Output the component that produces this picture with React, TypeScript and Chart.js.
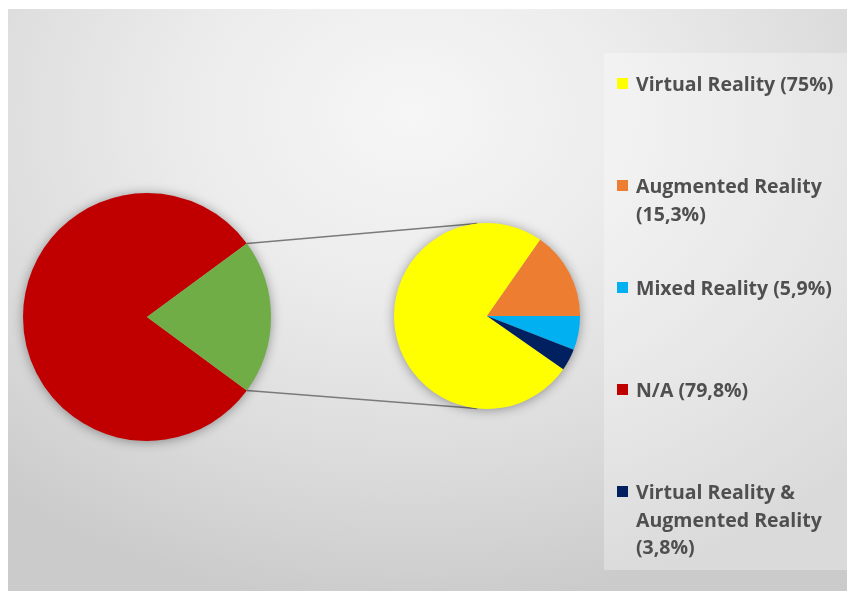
import React, { useEffect, useRef } from "react";
import { Chart, registerables } from "chart.js";

Chart.register(...registerables);

// ---- data ----
const naLabel = "N/A";
const naValue = 79.8;
const otherLabel = "Other";
const otherCategories = [
  "Virtual Reality",
  "Augmented Reality",
  "Mixed Reality",
  "Virtual Reality & Augmented Reality",
];
const otherValues = [75, 15.3, 5.9, 3.8];
const otherShare = 20.2;
const otherColors = ["#FFFF00", "#ED7D31", "#00B0F0", "#002060"];
const naColor = "#C00000";
const otherSliceColor = "#70AD47";
// legend order as shown in the reference
const legendOrder = ["Virtual Reality", "Augmented Reality", "Mixed Reality", "N/A", "Virtual Reality & Augmented Reality"];

const fmt = (v: number) => String(v).replace(".", ",");

const shadowPlugin = {
  id: "pieShadow",
  beforeDatasetsDraw(chart: any) {
    const meta = chart.getDatasetMeta(0);
    const arc = meta.data[0];
    if (!arc) return;
    const ctx = chart.ctx;
    ctx.save();
    ctx.shadowColor = "rgba(0,0,0,0.4)";
    ctx.shadowBlur = 12;
    ctx.shadowOffsetX = 0;
    ctx.shadowOffsetY = 1;
    ctx.fillStyle = "#bbbbbb";
    ctx.beginPath();
    ctx.arc(arc.x, arc.y, arc.outerRadius - 0.5, 0, Math.PI * 2);
    ctx.fill();
    ctx.restore();
  },
};

const MAIN = { left: 3, top: 172, size: 272, pad: 12 };
const SEC = { left: 374, top: 202, size: 210, pad: 12 };

export default function App() {
  const mainRef = useRef<HTMLCanvasElement>(null);
  const secRef = useRef<HTMLCanvasElement>(null);
  const lineRef = useRef<HTMLCanvasElement>(null);

  useEffect(() => {
    const main = new Chart(mainRef.current!, {
      type: "pie",
      data: {
        labels: [naLabel, otherLabel],
        datasets: [
          {
            data: [naValue, otherShare],
            backgroundColor: [naColor, otherSliceColor],
            borderWidth: 0,
          },
        ],
      },
      options: {
        animation: false,
        responsive: false,
        rotation: 90 + (otherShare * 3.6) / 2,
        layout: { padding: MAIN.pad },
        plugins: { legend: { display: false }, tooltip: { enabled: false } },
      },
      plugins: [shadowPlugin],
    });

    const tail = otherValues[2] + otherValues[3];
    const sec = new Chart(secRef.current!, {
      type: "pie",
      data: {
        labels: otherCategories,
        datasets: [
          {
            data: otherValues,
            backgroundColor: otherColors,
            borderWidth: 0,
          },
        ],
      },
      options: {
        animation: false,
        responsive: false,
        rotation: 90 + tail * 3.6,
        layout: { padding: SEC.pad },
        plugins: { legend: { display: false }, tooltip: { enabled: false } },
      },
      plugins: [shadowPlugin],
    });

    // connector lines from the "Other" slice to the secondary pie
    const lc = lineRef.current!;
    const ctx = lc.getContext("2d")!;
    ctx.clearRect(0, 0, lc.width, lc.height);
    const oArc: any = main.getDatasetMeta(0).data[1];
    const sArc: any = sec.getDatasetMeta(0).data[0];
    const p1 = {
      x: MAIN.left + oArc.x + oArc.outerRadius * Math.cos(oArc.startAngle),
      y: MAIN.top + oArc.y + oArc.outerRadius * Math.sin(oArc.startAngle),
    };
    const p2 = {
      x: MAIN.left + oArc.x + oArc.outerRadius * Math.cos(oArc.endAngle),
      y: MAIN.top + oArc.y + oArc.outerRadius * Math.sin(oArc.endAngle),
    };
    const a = (96 * Math.PI) / 180;
    const q1 = {
      x: SEC.left + sArc.x + sArc.outerRadius * Math.cos(-a),
      y: SEC.top + sArc.y + sArc.outerRadius * Math.sin(-a),
    };
    const q2 = {
      x: SEC.left + sArc.x + sArc.outerRadius * Math.cos(a),
      y: SEC.top + sArc.y + sArc.outerRadius * Math.sin(a),
    };
    ctx.strokeStyle = "#7a7a7a";
    ctx.lineWidth = 1.5;
    ctx.beginPath();
    ctx.moveTo(p1.x, p1.y);
    ctx.lineTo(q1.x, q1.y);
    ctx.moveTo(p2.x, p2.y);
    ctx.lineTo(q2.x, q2.y);
    ctx.stroke();

    return () => {
      main.destroy();
      sec.destroy();
    };
  }, []);

  const legendItems = legendOrder.map((name) => {
    if (name === naLabel) return { text: `${naLabel} (${fmt(naValue)}%)`, color: naColor };
    const i = otherCategories.indexOf(name);
    return { text: `${name} (${fmt(otherValues[i])}%)`, color: otherColors[i] };
  });

  return (
    <div
      style={{
        position: "fixed",
        left: 8,
        top: 9,
        width: 839,
        height: 582,
        overflow: "hidden",
        background:
          "radial-gradient(ellipse 75% 85% at 48% 18%, #f6f6f6 0%, #ececec 35%, #dcdcdc 70%, #cbcbcb 100%)",
        fontFamily: "'Open Sans', Lato, sans-serif",
      }}
    >
      <div
        style={{
          position: "absolute",
          left: 596,
          top: 44,
          width: 243,
          height: 517,
          background: "rgba(255,255,255,0.3)",
        }}
      />
      <canvas
        ref={lineRef}
        width={839}
        height={582}
        style={{ position: "absolute", left: 0, top: 0 }}
      />
      <canvas
        ref={mainRef}
        width={MAIN.size}
        height={MAIN.size}
        style={{ position: "absolute", left: MAIN.left, top: MAIN.top, width: MAIN.size, height: MAIN.size }}
      />
      <canvas
        ref={secRef}
        width={SEC.size}
        height={SEC.size}
        style={{ position: "absolute", left: SEC.left, top: SEC.top, width: SEC.size, height: SEC.size }}
      />
      {legendItems.map((it, i) => (
        <div
          key={i}
          style={{
            position: "absolute",
            left: 609,
            top: 61 + i * 102,
            width: 230,
            display: "flex",
            alignItems: "flex-start",
          }}
        >
          <div
            style={{
              width: 11,
              height: 11,
              background: it.color,
              marginTop: 8,
              flex: "0 0 auto",
            }}
          />
          <div
            style={{
              marginLeft: 8,
              fontSize: 19.5,
              fontWeight: 700,
              lineHeight: "27.5px",
              color: "#4f4f4f",
              width: 212,
            }}
          >
            {it.text}
          </div>
        </div>
      ))}
    </div>
  );
}
